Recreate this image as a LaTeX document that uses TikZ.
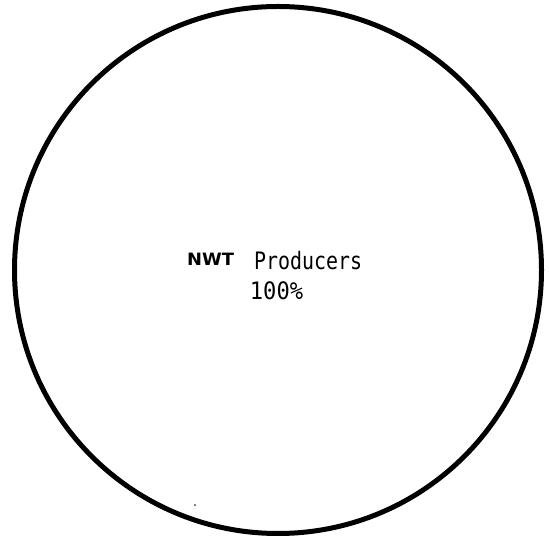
\documentclass[tikz,border=0pt]{standalone}
\usepackage{graphicx}
\usepackage{fontspec}
\setmainfont{DejaVu Sans}
\newfontfamily\labelmono{DejaVu Sans Mono}
\usetikzlibrary{positioning}

\begin{document}
\begin{tikzpicture}[x=1pt, y=1pt, ring/.style={draw, line width=5pt}, tag/.style={inner sep=0pt, anchor=base west}, monotext/.style={font=\labelmono\fontsize{24}{24}\selectfont}]
	\useasboundingbox (0,0) rectangle (549,538);
	\draw[ring] (278,268) circle (263.5);
	\node[tag, font=\bfseries\fontsize{17}{17}\selectfont] (nwt) at (187,272.3) {\scalebox{1.05}[1]{NWT}};
	\node[tag, monotext] (prod) at (254,268) {\scalebox{0.83}[1]{Producers}};
	\node[tag, monotext, anchor=base] (pct) at (276.5,238) {\scalebox{0.92}[1]{100\%}};
	\fill (195,33) circle (0.8);
\end{tikzpicture}
\end{document}
